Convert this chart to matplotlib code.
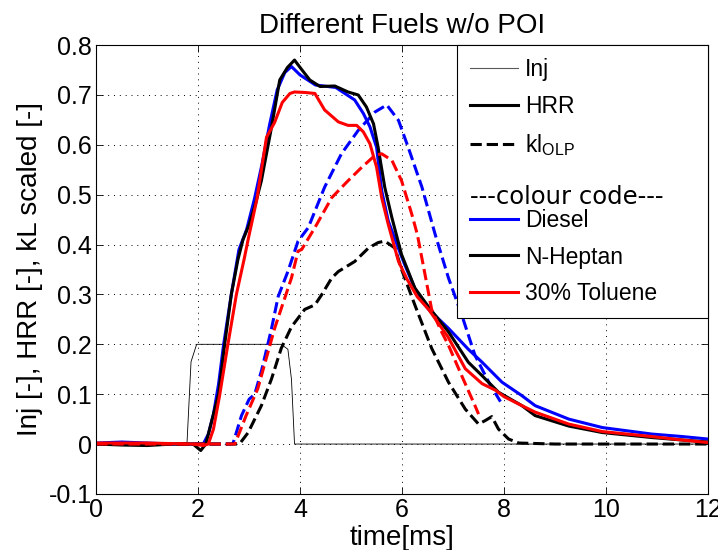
import matplotlib
matplotlib.use('Agg')
import matplotlib.pyplot as plt
from matplotlib.lines import Line2D

plt.rcParams['font.family'] = ['Liberation Sans', 'DejaVu Sans']

# injection signal
inj_t = [0, 1.78, 1.86, 1.97, 3.63, 3.76, 3.83, 3.89, 12]
inj_y = [0, 0, 0.165, 0.2, 0.2, 0.19, 0.13, 0, 0]

# heat release rate (solid)
diesel_hrr_t = [0, 0.5, 1.0, 1.5, 1.9, 2.1, 2.2, 2.3, 2.4, 2.5, 2.65, 2.8, 2.95, 3.1, 3.25, 3.4,
                3.55, 3.7, 3.83, 4.0, 4.3, 4.7, 5.07, 5.24, 5.37, 5.5, 5.6, 5.73, 5.9, 6.05, 6.3,
                6.52, 6.91, 7.3, 7.57, 7.96, 8.35, 8.61, 9.27, 9.93, 10.9, 11.5, 12]
diesel_hrr = [0.002, 0.004, 0.002, 0.0, 0.0, 0.0, 0.02, 0.06, 0.12, 0.2, 0.3, 0.39, 0.43, 0.49, 0.56, 0.64,
              0.71, 0.745, 0.757, 0.74, 0.72, 0.715, 0.69, 0.663, 0.636, 0.595, 0.508, 0.447, 0.40, 0.36, 0.30,
              0.27, 0.232, 0.19, 0.164, 0.124, 0.097, 0.077, 0.05, 0.033, 0.02, 0.015, 0.01]

heptan_hrr_t = [0, 0.5, 1.0, 1.5, 1.9, 2.05, 2.15, 2.25, 2.4, 2.52, 2.65, 2.78, 2.88, 3.0, 3.12, 3.24,
                3.44, 3.6, 3.75, 3.89, 4.0, 4.19, 4.39, 4.68, 4.94, 5.14, 5.3, 5.44, 5.53, 5.66, 5.8,
                5.99, 6.25, 6.52, 6.91, 7.3, 7.57, 7.89, 8.35, 8.61, 9.27, 9.93, 10.9, 11.5, 12]
heptan_hrr = [0.0, -0.002, -0.003, 0.0, 0.0, -0.013, 0.0, 0.04, 0.10, 0.2, 0.3, 0.37, 0.41, 0.44, 0.48, 0.528,
              0.636, 0.73, 0.755, 0.77, 0.755, 0.73, 0.717, 0.718, 0.706, 0.70, 0.676, 0.642, 0.595, 0.515, 0.454,
              0.38, 0.313, 0.275, 0.225, 0.164, 0.137, 0.104, 0.077, 0.057, 0.036, 0.023, 0.013, 0.008, 0.004]

toluene_hrr_t = [0, 1.0, 1.9, 2.1, 2.2, 2.3, 2.42, 2.58, 2.75, 2.9, 2.98, 3.15, 3.34, 3.5, 3.65, 3.8,
                 3.89, 4.1, 4.29, 4.48, 4.75, 4.94, 5.11, 5.24, 5.37, 5.5, 5.6, 5.73, 5.93, 6.1, 6.3,
                 6.52, 6.9, 7.24, 7.57, 7.83, 8.0, 8.35, 8.61, 9.27, 9.93, 10.9, 11.5, 12]
toluene_hrr = [0.002, 0.002, 0.0, -0.003, 0.0, 0.03, 0.097, 0.198, 0.3, 0.37, 0.41, 0.49, 0.615, 0.645, 0.685, 0.703,
               0.706, 0.705, 0.703, 0.67, 0.646, 0.639, 0.639, 0.626, 0.602, 0.555, 0.494, 0.44, 0.366, 0.33, 0.295,
               0.27, 0.215, 0.151, 0.121, 0.108, 0.095, 0.077, 0.064, 0.04, 0.025, 0.015, 0.008, 0.003]

# kl OLP scaled (dashed)
diesel_kl_t = [0, 2.68, 2.85, 3.0, 3.11, 3.25, 3.44, 3.57, 3.76, 3.96, 4.16, 4.48, 4.81, 5.14, 5.47,
               5.7, 5.93, 6.12, 6.39, 6.65, 6.91, 7.17, 7.43, 7.7, 7.93]
diesel_kl = [0, 0, 0.057, 0.09, 0.10, 0.15, 0.232, 0.296, 0.346, 0.407, 0.434, 0.515, 0.582, 0.629, 0.666,
             0.68, 0.649, 0.595, 0.515, 0.42, 0.333, 0.259, 0.178, 0.124, 0.085]

heptan_kl_t = [0, 2.81, 2.98, 3.24, 3.44, 3.63, 3.83, 4.09, 4.29, 4.42, 4.62, 4.75, 5.07, 5.34, 5.53,
               5.66, 5.86, 5.99, 6.25, 6.58, 6.91, 7.24, 7.5, 7.63, 7.76, 7.89, 8.09, 8.29, 9.0, 12]
heptan_kl = [0, 0, 0.023, 0.077, 0.131, 0.192, 0.235, 0.27, 0.279, 0.299, 0.333, 0.346, 0.366, 0.393, 0.404,
             0.407, 0.393, 0.35, 0.279, 0.192, 0.124, 0.07, 0.04, 0.047, 0.055, 0.03, 0.01, 0.002, 0, 0]

toluene_kl_t = [0, 2.72, 2.94, 3.17, 3.5, 3.83, 3.96, 4.03, 4.29, 4.62, 4.94, 5.21, 5.47, 5.6, 5.8,
                5.99, 6.19, 6.3, 6.45, 6.58, 6.75, 6.91, 7.17, 7.43, 7.5]
toluene_kl = [0, 0, 0.057, 0.111, 0.232, 0.333, 0.387, 0.39, 0.434, 0.494, 0.528, 0.555, 0.579, 0.582, 0.569,
              0.528, 0.461, 0.42, 0.34, 0.27, 0.23, 0.198, 0.137, 0.077, 0.06]

fig = plt.figure(figsize=(7.18, 5.5), dpi=100)
ax = fig.add_axes([0.134, 0.102, 0.852, 0.816])

lw = 2.2
ax.plot(inj_t, inj_y, color='k', lw=0.6)
ax.plot(diesel_hrr_t, diesel_hrr, color='b', lw=lw)
ax.plot(diesel_kl_t, diesel_kl, color='b', lw=lw, ls='--')
ax.plot(heptan_hrr_t, heptan_hrr, color='k', lw=lw)
ax.plot(heptan_kl_t, heptan_kl, color='k', lw=lw, ls='--')
ax.plot(toluene_hrr_t, toluene_hrr, color='r', lw=lw)
ax.plot(toluene_kl_t, toluene_kl, color='r', lw=lw, ls='--')

ax.set_xlim(0, 12)
ax.set_ylim(-0.1, 0.8)
ax.set_xticks(range(0, 13, 2))
ax.set_yticks([-0.1, 0, 0.1, 0.2, 0.3, 0.4, 0.5, 0.6, 0.7, 0.8])
ax.set_yticklabels(['-0.1', '0', '0.1', '0.2', '0.3', '0.4', '0.5', '0.6', '0.7', '0.8'])
ax.tick_params(direction='in', top=True, right=True, labelsize=18, length=5, width=0.6, pad=3)
ax.grid(True, ls=(0, (1, 5)), color='k', lw=0.7)
for s in ax.spines.values():
    s.set_linewidth(0.8)

ax.set_title('Different Fuels w/o POI', fontsize=20, pad=9)
ax.set_xlabel('time[ms]', fontsize=20, labelpad=2)
ax.set_ylabel('Inj [-], HRR [-], kL scaled [-]', fontsize=20, labelpad=4)

handles = [
    Line2D([], [], color='0.35', lw=0.8),
    Line2D([], [], color='k', lw=lw),
    Line2D([], [], color='k', lw=lw, ls='--'),
    Line2D([], [], color='none', lw=0),
    Line2D([], [], color='b', lw=lw),
    Line2D([], [], color='k', lw=lw),
    Line2D([], [], color='r', lw=lw),
]
labels = ['Inj', 'HRR', 'kl$_{\\mathregular{OLP}}$', ' ', 'Diesel', 'N-Heptan', '30% Toluene']
leg = ax.legend(handles, labels, loc='upper right', bbox_to_anchor=(0.590, 0.0, 0.410, 1.0),
                mode='expand', borderaxespad=0,
                fontsize=16.5, handlelength=2.1, handletextpad=0.3, labelspacing=0.61,
                borderpad=0.55, fancybox=False, framealpha=1, edgecolor='k')
leg.get_frame().set_linewidth(0.8)

ax.text(0.611, 0.662, '---colour code---', transform=ax.transAxes, fontsize=17.5,
        family='DejaVu Sans', va='center', ha='left', zorder=10)

fig.savefig('out.png', dpi=100)
